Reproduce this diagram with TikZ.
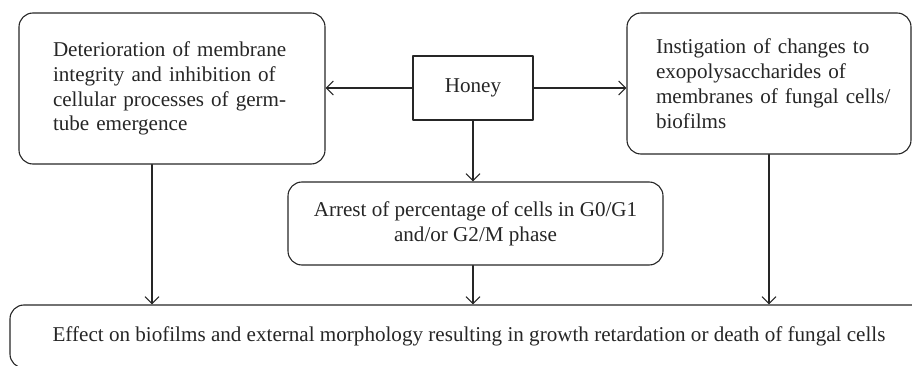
\documentclass[tikz,border=0pt]{standalone}
\usepackage{fontspec}
\setmainfont{Liberation Serif}
\usetikzlibrary{arrows.meta}
\begin{document}
\begin{tikzpicture}[x=1pt,y=-1pt,line join=round,line cap=round,
		box/.style={draw=black!85,line width=1.1pt,rounded corners=14pt,text=black!85,
			font=\fontsize{21.1}{24.8}\selectfont},
		plainbox/.style={box,rounded corners=0pt},
		arr/.style={draw=black!85,line width=1.1pt,-{Straight Barb[length=7pt,width=14pt,line width=1.1pt]}}]
	\useasboundingbox (0,0) rectangle (912,366);
	\node[plainbox,minimum width=120pt,minimum height=64pt] (honey) at (473,88) {Honey};
	\node[box,minimum width=306pt,minimum height=151pt,inner xsep=34pt,text width=238pt,align=left] (memb) at (172,88.5)
		{Deterioration of membrane\\integrity and inhibition of\\cellular processes of germ-\\tube emergence};
	\node[box,minimum width=284pt,minimum height=141pt,inner xsep=29pt,text width=226pt,align=left] (exo) at (769,83.5)
		{Instigation of changes to\\exopolysaccharides of\\\mbox{membranes of fungal cells/}\\biofilms};
	\node[box,minimum width=375pt,minimum height=83pt,align=center] (arrest) at (475.5,223.5)
		{Arrest of percentage of cells in G0/G1\\and/or G2/M phase};
	\node[box,minimum width=918pt,minimum height=63pt,align=center] (effect) at (469,336.5)
		{Effect on biofilms and external morphology resulting in growth retardation or death of fungal cells};
	\coordinate (membout) at ([xshift=-20pt]memb.south);
	%arrows
	\draw[arr] (honey.west) -- (honey.west -| memb.east);
	\draw[arr] (honey.east) -- (honey.east -| exo.west);
	\draw[arr] (honey.south) -- (honey.south |- arrest.north);
	\draw[arr] (honey.south |- arrest.south) -- (honey.south |- effect.north);
	\draw[arr] (membout) -- (membout |- effect.north);
	\draw[arr] (exo.south) -- (exo.south |- effect.north);
\end{tikzpicture}
\end{document}
